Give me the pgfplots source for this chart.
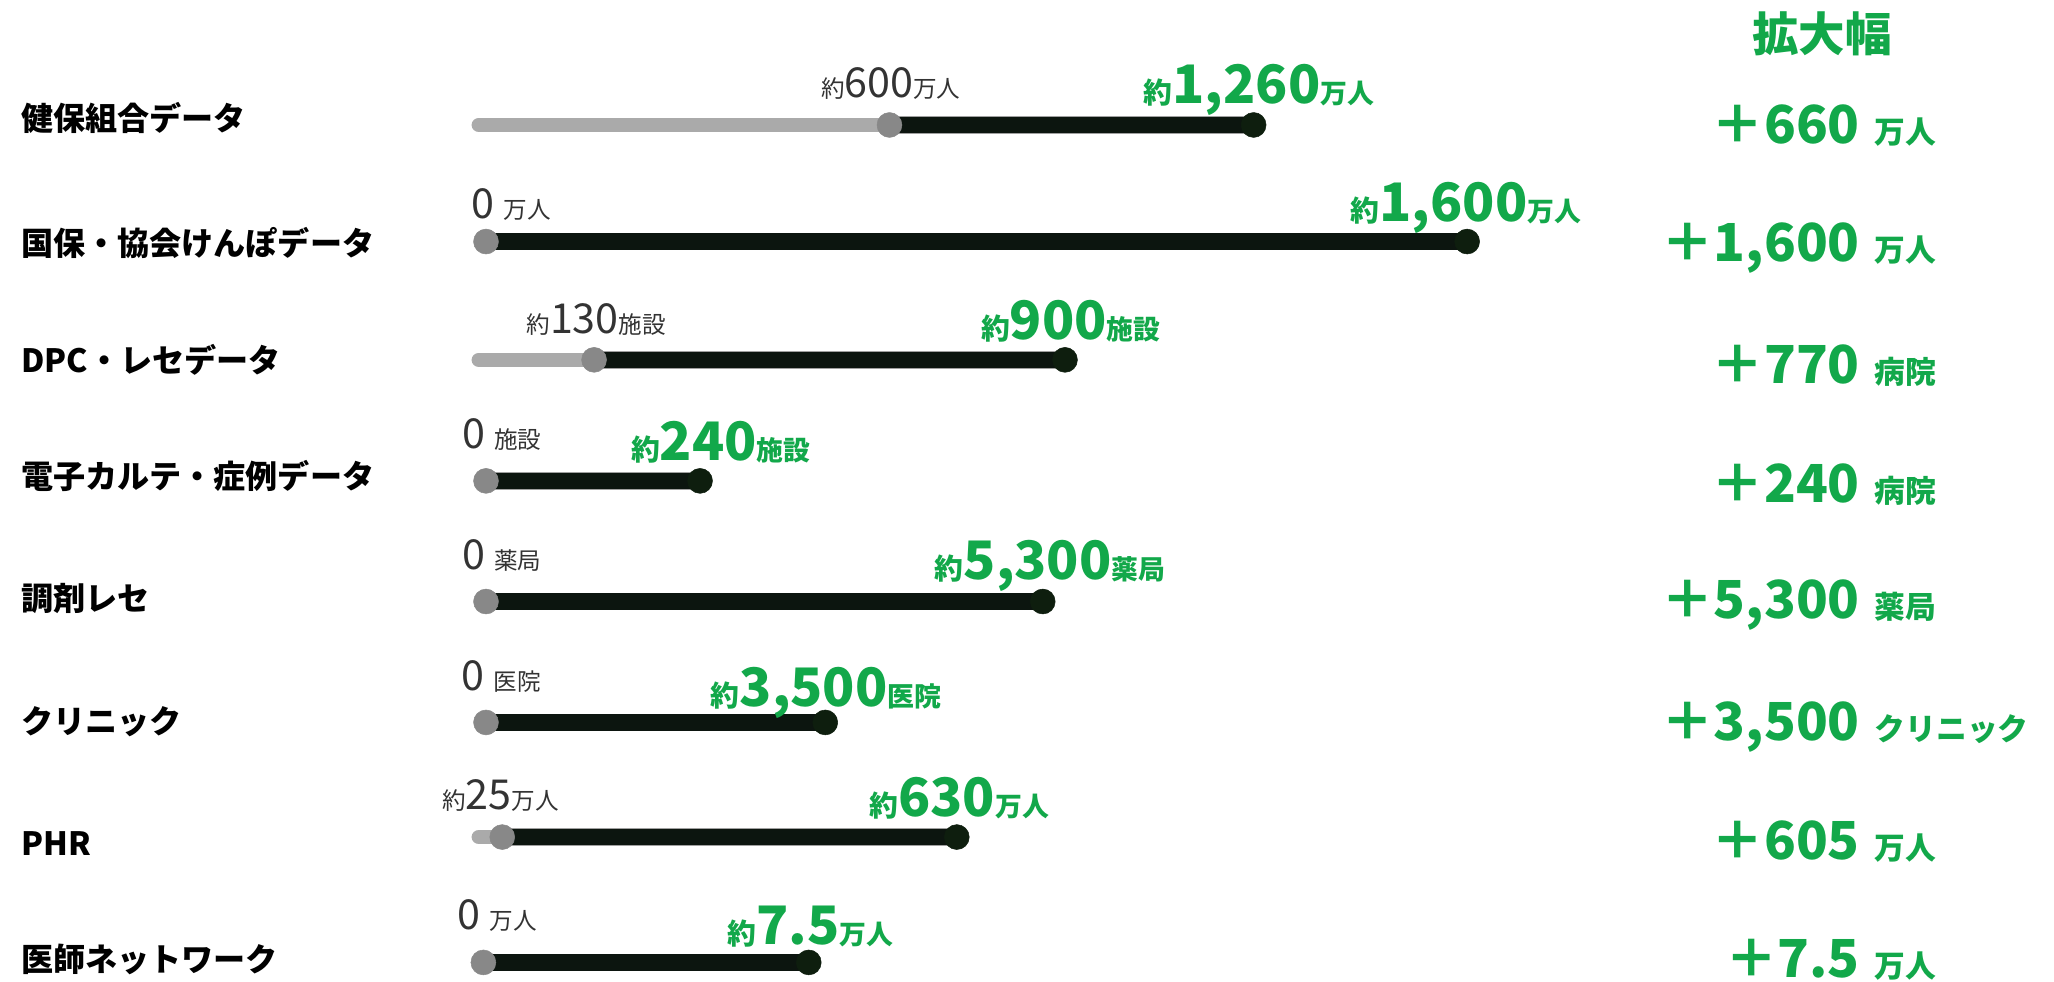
\documentclass[border=0pt]{standalone}
\usepackage{pgfplots}
\pgfplotsset{compat=1.18}
\usepackage{fontspec}
\setmainfont{Noto Sans CJK JP}
\definecolor{grn}{RGB}{18,168,74}
\definecolor{darkline}{RGB}{12,21,15}
\definecolor{enddot}{RGB}{14,30,14}
\definecolor{greyline}{RGB}{170,170,170}
\definecolor{greydot}{RGB}{136,136,136}
\definecolor{lbl}{RGB}{51,51,51}
\newcommand{\fs}[1]{\fontsize{#1pt}{#1pt}\selectfont}
% start labels
\newcommand{\stA}[1]{{\fs{18}#1}}
\newcommand{\stB}[1]{{\fs{31.5}#1}}
% end labels (green bold)
\newcommand{\enA}[1]{{\fs{22}#1}}
\newcommand{\enB}[1]{{\fs{40.5}#1}}
\newcommand{\enC}[1]{{\fs{20.5}#1}}
\begin{document}
\begin{tikzpicture}
\begin{axis}[
  width=1568pt, height=749pt, scale only axis,
  xmin=0, xmax=1568, ymin=0, ymax=749, y dir=reverse,
  hide axis, clip=false,
]
% grey "before" segments
\addplot[no marks, line width=11pt, color=greyline, line cap=round] coordinates {(365.5,95.4) (679,95.4)};
\addplot[no marks, line width=11pt, color=greyline, line cap=round] coordinates {(365.5,274.7) (453.5,274.7)};
\addplot[no marks, line width=11pt, color=greyline, line cap=round] coordinates {(365.5,639) (383.4,639)};
% dark "after" segments (thin grey edge below)
\addplot[no marks, line width=13.6pt, color=greydot!80] coordinates {(679,95.4) (957,95.4)};
\addplot[no marks, line width=13.6pt, color=greydot!80] coordinates {(371,184.4) (1120,184.4)};
\addplot[no marks, line width=13.6pt, color=greydot!80] coordinates {(453.5,274.7) (813,274.7)};
\addplot[no marks, line width=13.6pt, color=greydot!80] coordinates {(371,367.1) (534.4,367.1)};
\addplot[no marks, line width=13.6pt, color=greydot!80] coordinates {(371,459.2) (796,459.2)};
\addplot[no marks, line width=13.6pt, color=greydot!80] coordinates {(371,551.5) (630,551.5)};
\addplot[no marks, line width=13.6pt, color=greydot!80] coordinates {(383.4,639) (730.4,639)};
\addplot[no marks, line width=13.6pt, color=greydot!80] coordinates {(369,734.7) (617.4,734.7)};
\addplot[no marks, line width=12.4pt, color=darkline] coordinates {(679,95.4) (957,95.4)};
\addplot[no marks, line width=12.4pt, color=darkline] coordinates {(371,184.4) (1120,184.4)};
\addplot[no marks, line width=12.4pt, color=darkline] coordinates {(453.5,274.7) (813,274.7)};
\addplot[no marks, line width=12.4pt, color=darkline] coordinates {(371,367.1) (534.4,367.1)};
\addplot[no marks, line width=12.4pt, color=darkline] coordinates {(371,459.2) (796,459.2)};
\addplot[no marks, line width=12.4pt, color=darkline] coordinates {(371,551.5) (630,551.5)};
\addplot[no marks, line width=12.4pt, color=darkline] coordinates {(383.4,639) (730.4,639)};
\addplot[no marks, line width=12.4pt, color=darkline] coordinates {(369,734.7) (617.4,734.7)};
% start dots
\addplot[only marks, mark=*, mark size=9.5pt, color=greydot] coordinates {
(679,95.4) (371,184.4) (453.5,274.7) (371,367.1) (371,459.2) (371,551.5) (383.4,639) (369,734.7)};
% end dots
\addplot[only marks, mark=*, mark size=9.5pt, color=enddot] coordinates {
(957,95.4) (1120,184.4) (813,274.7) (534.4,367.1) (796,459.2) (630,551.5) (730.4,639) (617.4,734.7)};

% row labels
\begin{scope}[every node/.style={anchor=west, font=\bfseries\fs{24.5}, text=black, inner sep=0pt}]
\node at (axis cs:16,90.3) {健保組合データ};
\node at (axis cs:16,185.8) {国保・協会けんぽデータ};
\node at (axis cs:16,274.8) {DPC・レセデータ};
\node at (axis cs:16,363.4) {電子カルテ・症例データ};
\node at (axis cs:16,456.8) {調剤レセ};
\node at (axis cs:16,551) {クリニック};
\node at (axis cs:16,643.8) {PHR};
\node at (axis cs:16,732.3) {医師ネットワーク};
\end{scope}

% start labels
\begin{scope}[every node/.style={anchor=base west, text=lbl, inner sep=0pt}]
\node at (axis cs:626.6,74.3) {\stA{約}\stB{600}\stA{万人}};
\node at (axis cs:359.8,166.7) {\stB{0 }\stA{万人}};
\node at (axis cs:401.7,254.4) {\stA{約}\stB{130}\stA{施設}};
\node at (axis cs:352.5,342.2) {\stB{0 }\stA{施設}};
\node at (axis cs:352.5,434.5) {\stB{0 }\stA{薬局}};
\node at (axis cs:352,527) {\stB{0 }\stA{医院}};
\node at (axis cs:337.5,618.2) {\stA{約}\stB{25}\stA{万人}};
\node at (axis cs:349,709.8) {\stB{0 }\stA{万人}};
\end{scope}

% end labels
\begin{scope}[every node/.style={anchor=base west, text=grn, font=\bfseries, inner sep=0pt}]
\node at (axis cs:873,78.7) {\enA{約}\enB{1,260}\enC{万人}};
\node at (axis cs:1031,169.2) {\enA{約}\enB{1,600}\enC{万人}};
\node at (axis cs:748.7,258.9) {\enA{約}\enB{900}\enC{施設}};
\node at (axis cs:481.5,351.8) {\enA{約}\enB{240}\enC{施設}};
\node at (axis cs:713.5,442) {\enA{約}\enB{5,300}\enC{薬局}};
\node at (axis cs:542.5,539.3) {\enA{約}\enB{3,500}\enC{医院}};
\node at (axis cs:663.5,623) {\enA{約}\enB{630}\enC{万人}};
\node at (axis cs:555.4,721) {\enA{約}\enB{7.5}\enC{万人}};
\end{scope}

% right column
\node[anchor=center, text=grn, font=\bfseries\fs{35.5}, inner sep=0pt] at (axis cs:1391,25.5) {拡大幅};
\begin{scope}[every node/.style={text=grn, font=\bfseries, inner sep=0pt}]
\node[anchor=base east] at (axis cs:1420,109.4) {\fs{40}＋660};
\node[anchor=base west] at (axis cs:1431,109.4) {\fs{23.5}万人};
\node[anchor=base east] at (axis cs:1420,199.8) {\fs{40}＋1,600};
\node[anchor=base west] at (axis cs:1431,199.8) {\fs{23.5}万人};
\node[anchor=base east] at (axis cs:1420,293) {\fs{40}＋770};
\node[anchor=base west] at (axis cs:1431,293) {\fs{23.5}病院};
\node[anchor=base east] at (axis cs:1420,383.4) {\fs{40}＋240};
\node[anchor=base west] at (axis cs:1431,383.4) {\fs{23.5}病院};
\node[anchor=base east] at (axis cs:1420,472) {\fs{40}＋5,300};
\node[anchor=base west] at (axis cs:1431,472) {\fs{23.5}薬局};
\node[anchor=base east] at (axis cs:1420,565.6) {\fs{40}＋3,500};
\node[anchor=base west] at (axis cs:1431,565.6) {\fs{23.5}クリニック};
\node[anchor=base east] at (axis cs:1420,655.8) {\fs{40}＋605};
\node[anchor=base west] at (axis cs:1431,655.8) {\fs{23.5}万人};
\node[anchor=base east] at (axis cs:1420,746.5) {\fs{40}＋7.5};
\node[anchor=base west] at (axis cs:1431,746.5) {\fs{23.5}万人};
\end{scope}
\end{axis}
\pgfresetboundingbox
\path (0,0) rectangle (1568pt,749pt);
\end{tikzpicture}
\end{document}
